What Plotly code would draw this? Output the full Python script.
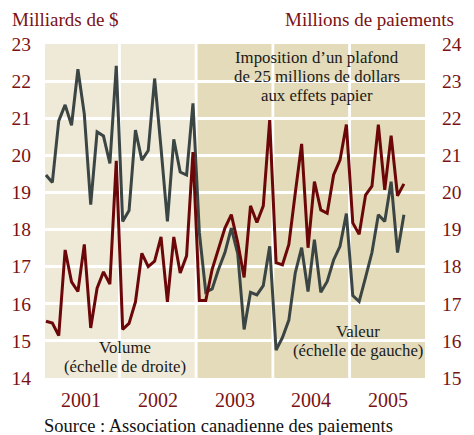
import plotly.graph_objects as go

# ---- data (monthly, Jan 2001 - Sep 2005) ----
years = ["2001", "2002", "2003", "2004", "2005"]

# Valeur, milliards de $ (left scale)
valeur = [
    19.47, 19.27, 20.93, 21.36, 20.81, 22.32, 21.11, 18.67, 20.63, 20.52, 19.78, 22.41,
    18.22, 18.51, 20.68, 19.87, 20.13, 22.07, 20.20, 18.22, 20.43, 19.55, 19.47, 21.40,
    17.91, 16.31, 16.40, 16.93, 17.38, 18.04, 17.35, 15.31, 16.31, 16.24, 16.49, 17.55,
    14.75, 15.09, 15.56, 16.83, 17.51, 16.33, 17.73, 16.31, 16.60, 17.18, 17.55, 18.43,
    16.22, 16.06, 16.71, 17.38, 18.40, 18.22, 19.29, 17.38, 18.40,
]

# Volume, millions de paiements (right scale)
volume = [
    16.53, 16.48, 16.14, 18.45, 17.59, 17.33, 18.60, 16.35, 17.42, 17.86, 17.53, 20.85,
    16.31, 16.47, 17.05, 18.36, 18.00, 18.15, 18.80, 17.05, 18.80, 17.83, 18.29, 21.09,
    17.09, 17.09, 17.93, 18.51, 19.04, 19.40, 18.65, 17.71, 19.64, 19.19, 19.64, 21.95,
    18.11, 18.05, 18.60, 19.98, 21.31, 18.51, 20.29, 19.53, 19.44, 20.47, 20.87, 21.83,
    19.18, 18.87, 19.93, 20.17, 21.83, 20.07, 21.53, 19.91, 20.23,
]

months = list(range(len(valeur)))

left_ticks = list(range(14, 24))
right_ticks = list(range(15, 25))

# ---- styling ----
FONT = "Liberation Serif"
RED_TXT = "#7A1214"
GRAY = "#3A4544"
RED = "#6B0709"
LIGHT = "#EFEAD8"
DARK = "#E3DBB9"

T, B, L, R = 44, 57, 39, 36
H = 435

fig = go.Figure()
fig.add_trace(go.Scatter(x=months, y=valeur, mode="lines", yaxis="y",
                         line=dict(color=GRAY, width=3), showlegend=False,
                         hoverinfo="skip"))
fig.add_trace(go.Scatter(x=months, y=volume, mode="lines", yaxis="y2",
                         line=dict(color=RED, width=3), showlegend=False,
                         hoverinfo="skip"))


def at_px(y_px):
    """yshift relative to the top of the plot area for a pixel row."""
    return T - y_px


# year panels
xmin, xmax = -0.15, 59.3
gap = 0.22
for i, yr in enumerate(years):
    x0 = xmin if i == 0 else 12 * i - 0.5 + gap
    x1 = xmax if i == len(years) - 1 else 12 * (i + 1) - 0.5 - gap
    fig.add_shape(type="rect", xref="x", yref="paper", x0=x0, x1=x1, y0=0, y1=1,
                  fillcolor=LIGHT if i < 2 else DARK, line=dict(width=0), layer="below")
    fig.add_annotation(x=12 * i + 5.5, y=1, xref="x", yref="paper", text=yr,
                       showarrow=False, yanchor="middle", yshift=at_px(400),
                       font=dict(family=FONT, size=20, color=RED_TXT))

ann_font = dict(family=FONT, size=16.8, color="#1a1a1a")
blocks = [
    (42.4, [("Imposition d’un plafond", 57), ("de 25 millions de dollars", 76),
            ("aux effets papier", 95)]),
    (12.4, [("Volume", 347), ("(échelle de droite)", 366)]),
    (48.8, [("Valeur", 331), ("(échelle de gauche)", 350)]),
]
for xc, lines in blocks:
    for txt, ypx in lines:
        fig.add_annotation(x=xc, y=1, xref="x", yref="paper", showarrow=False,
                           text=txt, font=ann_font, yanchor="middle", yshift=at_px(ypx))

fig.add_annotation(x=0, y=1, xref="paper", yref="paper", text="Milliards de $",
                   showarrow=False, xanchor="left", yanchor="middle", xshift=-35,
                   yshift=at_px(19), font=dict(family=FONT, size=19, color=RED_TXT))
fig.add_annotation(x=1, y=1, xref="paper", yref="paper", text="Millions de paiements",
                   showarrow=False, xanchor="right", yanchor="middle", xshift=31,
                   yshift=at_px(19), font=dict(family=FONT, size=19, color=RED_TXT))
fig.add_annotation(x=0, y=1, xref="paper", yref="paper",
                   text="Source : Association canadienne des paiements",
                   showarrow=False, xanchor="left", yanchor="middle", xshift=-3,
                   yshift=at_px(426), font=dict(family=FONT, size=18.5, color="#111111"))

fig.update_layout(
    width=474, height=H,
    margin=dict(l=L, r=R, t=T, b=B),
    paper_bgcolor="white", plot_bgcolor="white",
    hovermode=False,
    xaxis=dict(range=[xmin, xmax], showgrid=False, zeroline=False,
               showticklabels=False, ticks="", showline=False, fixedrange=True),
    yaxis=dict(range=[14, 23], tickvals=left_ticks, ticktext=[str(v) for v in left_ticks],
               showgrid=True, gridcolor="white", gridwidth=3, zeroline=False,
               ticks="outside", ticklen=9, tickcolor="rgba(0,0,0,0)",
               tickfont=dict(family=FONT, size=19.5, color=RED_TXT), showline=False),
    yaxis2=dict(range=[15, 24], tickvals=right_ticks, ticktext=[str(v) for v in right_ticks],
                overlaying="y", side="right", showgrid=False, zeroline=False,
                ticks="outside", ticklen=12, tickcolor="rgba(0,0,0,0)",
                tickfont=dict(family=FONT, size=19.5, color=RED_TXT), showline=False),
)

fig.write_html("out.html", config={"displayModeBar": False},
               post_script="document.body.style.margin='0';")
